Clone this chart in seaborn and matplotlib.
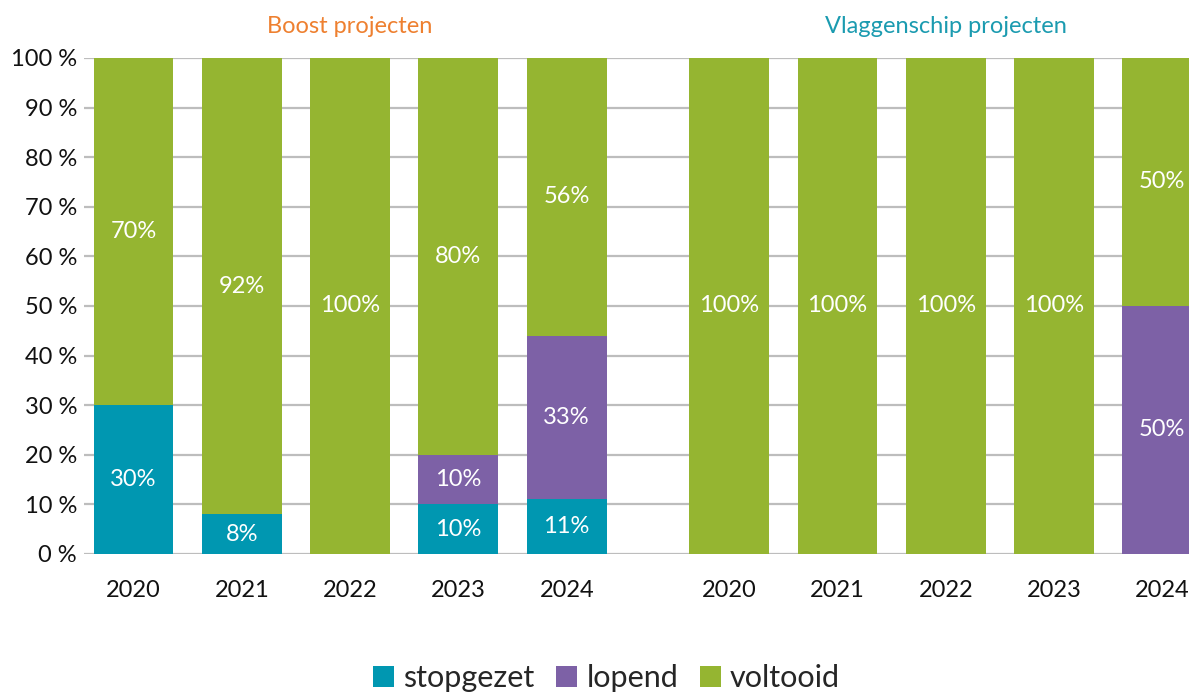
import pandas as pd
import seaborn as sns
import matplotlib.pyplot as plt
from matplotlib.patches import Patch

# Share of projects per status, per year, for the two programmes
years = ['2020', '2021', '2022', '2023', '2024']
groups = ['Boost projecten', 'Vlaggenschip projecten']
statuses = ['stopgezet', 'lopend', 'voltooid']

boost_stopgezet = [30, 8, 0, 10, 11]
boost_lopend = [0, 0, 0, 10, 33]
boost_voltooid = [70, 92, 100, 80, 56]

vlag_stopgezet = [0, 0, 0, 0, 0]
vlag_lopend = [0, 0, 0, 0, 50]
vlag_voltooid = [100, 100, 100, 100, 50]

colors = {'stopgezet': '#0097B1', 'lopend': '#7D61A6', 'voltooid': '#95B531'}
title_colors = ['#EE8030', '#1B9BB0']

# long table; second group is shifted right to leave a gap between the two
rows = []
for g, (st, lo, vo), offset in [
    (groups[0], (boost_stopgezet, boost_lopend, boost_voltooid), 0.0),
    (groups[1], (vlag_stopgezet, vlag_lopend, vlag_voltooid), 5.5),
]:
    for i, y in enumerate(years):
        rows.append({'group': g, 'year': y, 'pos': i + offset,
                     'stopgezet': st[i], 'lopend': lo[i], 'voltooid': vo[i]})
df = pd.DataFrame(rows)
df['cum_stop'] = df['stopgezet']
df['cum_lopend'] = df['stopgezet'] + df['lopend']
df['cum_all'] = df['cum_lopend'] + df['voltooid']

sns.set_theme(style='white')
plt.rcParams['font.family'] = ['Lato', 'DejaVu Sans']

fig = plt.figure(figsize=(11.89, 6.99), dpi=100)
ax = fig.add_axes([84 / 1189, 145 / 699, 1 - 84 / 1189, 496 / 699])

# stacked bars drawn as overlapping cumulative totals
for col, status in [('cum_all', 'voltooid'), ('cum_lopend', 'lopend'), ('cum_stop', 'stopgezet')]:
    sns.barplot(data=df, x='pos', y=col, native_scale=True, color=colors[status],
                width=0.737, errorbar=None, linewidth=0, saturation=1, ax=ax)

# white value labels in the middle of each segment
for _, r in df.iterrows():
    bottom = 0
    for status in statuses:
        v = r[status]
        if v > 0:
            ax.text(r['pos'], bottom + v / 2, f'{v}%', ha='center', va='center',
                    color='white', fontsize=17)
        bottom += v

ax.set_ylim(0, 100)
ax.set_xlim(-0.457, 9.746)
ax.set_yticks(range(0, 101, 10))
ax.set_yticklabels([f'{t} %' for t in range(0, 101, 10)])
ax.set_xticks(df['pos'])
ax.set_xticklabels(df['year'])
ax.tick_params(axis='x', length=0, pad=19, labelsize=17, colors='#111111')
ax.tick_params(axis='y', length=0, pad=5, labelsize=17, colors='#111111')
ax.yaxis.grid(True, color='#BDBDBD', linewidth=1.6)
ax.set_axisbelow(True)
ax.set_xlabel('')
ax.set_ylabel('')
for s in ax.spines.values():
    s.set_visible(False)

# group titles above the bars
for g, center, c in [(groups[0], 2.0, title_colors[0]), (groups[1], 7.5, title_colors[1])]:
    ax.text(center, 106.3, g, ha='center', va='center', color=c, fontsize=17,
            transform=ax.transData, clip_on=False)

handles = [Patch(facecolor=colors[s], edgecolor='none', label=s) for s in statuses]
fig.legend(handles=handles, loc='center', bbox_to_anchor=(0.51, 0.03), ncol=3,
           frameon=False, fontsize=22, handlelength=0.7, handleheight=0.7,
           handletextpad=0.3, columnspacing=0.7, borderpad=0.1)

fig.savefig('out.png', dpi=100)
